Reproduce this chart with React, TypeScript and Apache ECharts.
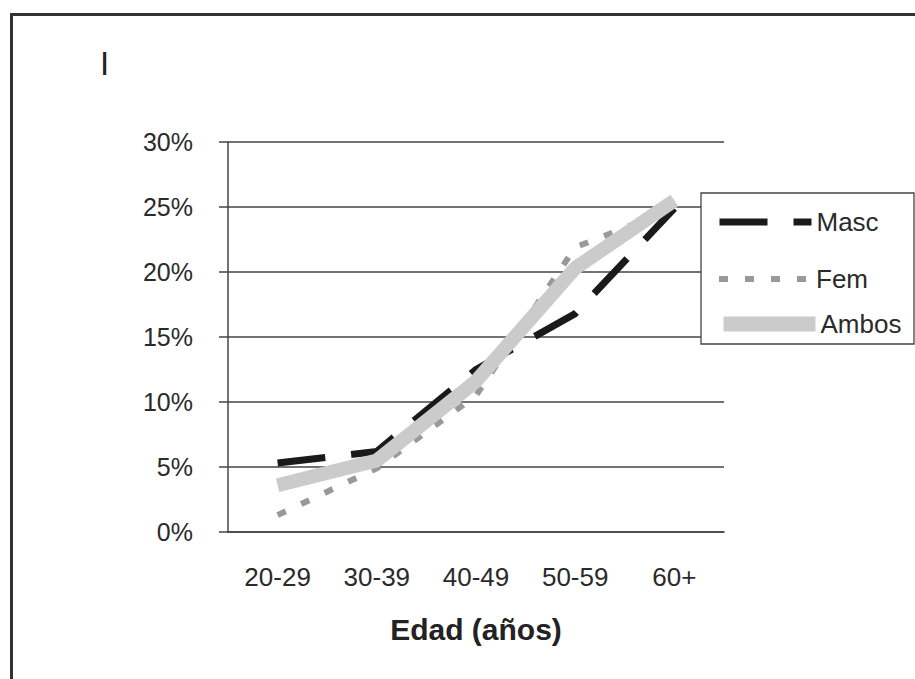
import React, { useEffect, useRef } from "react";
import * as echarts from "echarts";

// Age groups on the x axis
const ageGroups = ["20-29", "30-39", "40-49", "50-59", "60+"];

// Percentages per age group
const masc = [5.3, 6.2, 12.5, 16.8, 24.9];
const fem = [1.3, 4.9, 10.5, 21.9, 24.9];
const ambos = [3.6, 5.5, 11.6, 20.3, 25.5];

const yTicks = [0, 5, 10, 15, 20, 25, 30];

const FONT = "'Liberation Sans', Arial, sans-serif";
const TEXT = "#2a2a2a";
const AXIS = "#444444";

const MASC_DASH = [48, 26];
const FEM_DASH = [9, 17];

export default function App() {
  const ref = useRef<HTMLDivElement>(null);

  useEffect(() => {
    if (!ref.current) return;
    const chart = echarts.init(ref.current, undefined, { renderer: "svg" });

    const legendBase = {
      orient: "horizontal",
      left: 711,
      itemWidth: 92,
      itemHeight: 15,
      itemGap: 0,
      selectedMode: false,
      // hide the marker the line legend puts in the middle of the sample
      itemStyle: { opacity: 0 },
      textStyle: { fontFamily: FONT, fontSize: 26, color: TEXT },
    };

    chart.setOption({
      animation: false,
      backgroundColor: "#ffffff",
      title: {
        text: "I",
        left: 95,
        top: 42,
        textStyle: { fontFamily: FONT, fontSize: 33, fontWeight: "normal", color: "#222" },
      },
      grid: { left: 228, top: 142, width: 496, height: 390 },
      xAxis: {
        type: "category",
        data: ageGroups,
        boundaryGap: true,
        axisLine: { lineStyle: { color: AXIS, width: 1.5 } },
        axisTick: { length: 9, lineStyle: { color: AXIS, width: 1.5 } },
        axisLabel: { margin: 32, fontFamily: FONT, fontSize: 26, color: TEXT },
        name: "Edad (años)",
        nameLocation: "middle",
        nameGap: 82,
        nameTextStyle: { fontFamily: FONT, fontSize: 30, fontWeight: "bold", color: "#222" },
      },
      yAxis: {
        type: "value",
        min: yTicks[0],
        max: yTicks[yTicks.length - 1],
        interval: 5,
        axisLine: { show: true, lineStyle: { color: AXIS, width: 1.5 } },
        axisTick: { show: true, length: 9, lineStyle: { color: AXIS, width: 1.5 } },
        axisLabel: { margin: 35, fontFamily: FONT, fontSize: 25, color: TEXT, formatter: "{value}%" },
        splitLine: { show: true, lineStyle: { color: AXIS, width: 1.5 } },
      },
      legend: [
        { ...legendBase, top: 204, data: ["Masc"], lineStyle: { width: 7, type: MASC_DASH } },
        { ...legendBase, top: 261, data: ["Fem"], lineStyle: { width: 6, type: FEM_DASH } },
        { ...legendBase, top: 306, data: ["Ambos"], lineStyle: { width: 15 } },
      ],
      graphic: [
        // frame around the figure
        { type: "line", z: 10, shape: { x1: 10, y1: 14.5, x2: 915, y2: 14.5 }, style: { stroke: "#333", lineWidth: 3 } },
        { type: "line", z: 10, shape: { x1: 11.5, y1: 13, x2: 11.5, y2: 679 }, style: { stroke: "#333", lineWidth: 3 } },
        // legend box
        {
          type: "rect",
          z: 3,
          shape: { x: 701, y: 193, width: 213, height: 151 },
          style: { fill: "#ffffff", stroke: "#444", lineWidth: 1.3 },
        },
      ],
      series: [
        {
          name: "Masc",
          type: "line",
          data: masc,
          symbol: "none",
          z: 2,
          lineStyle: { color: "#1a1a1a", width: 7, type: MASC_DASH, cap: "butt" },
          itemStyle: { color: "#1a1a1a" },
        },
        {
          name: "Fem",
          type: "line",
          data: fem,
          symbol: "none",
          z: 3,
          lineStyle: { color: "#999999", width: 6, type: FEM_DASH, cap: "butt" },
          itemStyle: { color: "#999999" },
        },
        {
          name: "Ambos",
          type: "line",
          data: ambos,
          symbol: "none",
          z: 4,
          lineStyle: { color: "#cbcbcb", width: 14, cap: "butt" },
          itemStyle: { color: "#cbcbcb" },
        },
      ],
    });

    return () => chart.dispose();
  }, []);

  return (
    <div
      ref={ref}
      style={{ position: "absolute", left: 0, top: 0, width: 915, height: 679 }}
    />
  );
}
